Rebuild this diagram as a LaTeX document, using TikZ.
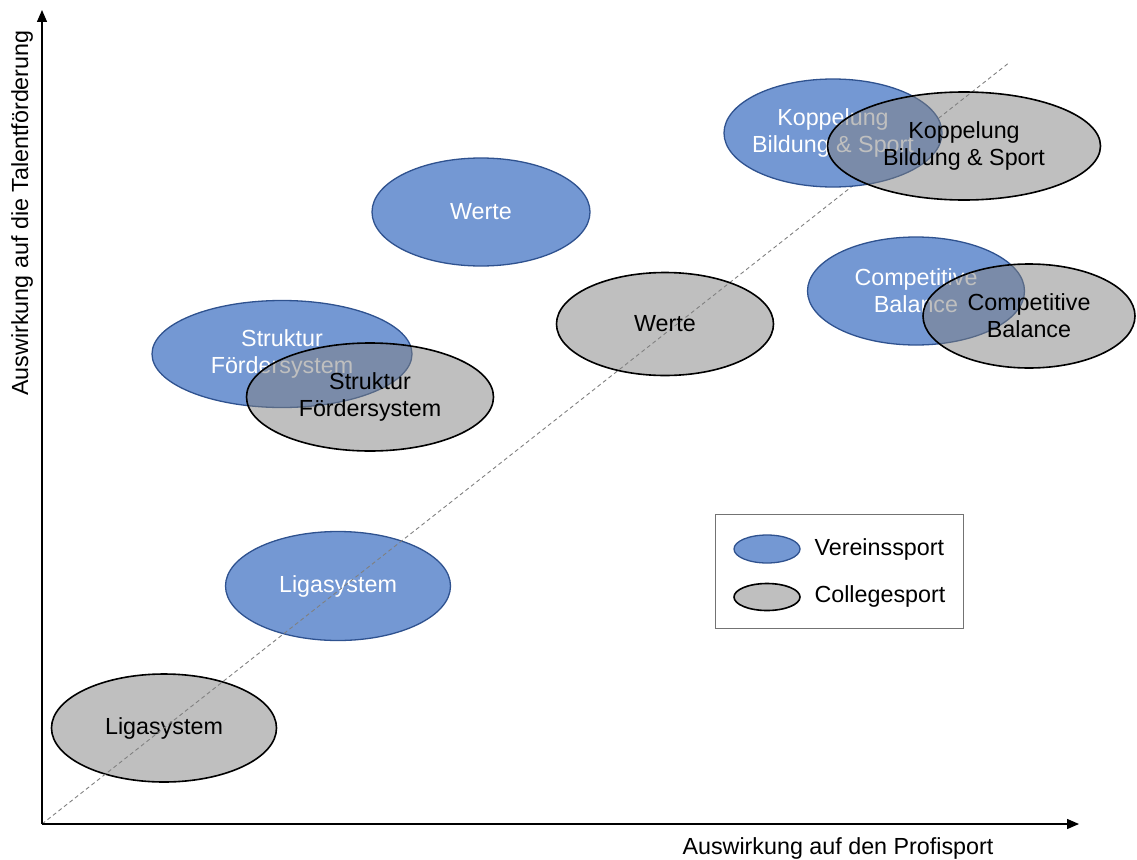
\documentclass[tikz,border=0pt]{standalone}
\usepackage{fontspec}
\setmainfont{Liberation Sans}
\usetikzlibrary{shapes.geometric,arrows.meta}
\definecolor{vblue}{RGB}{116,152,211}
\definecolor{vblueline}{RGB}{47,82,143}
\tikzset{
  lbl/.style={font=\fontsize{23.3}{27}\selectfont, align=center},
  verein/.style={ellipse, draw=vblueline, line width=1.3pt, fill=vblue, text=white, inner sep=0pt, lbl},
  college/.style={ellipse, draw=black, line width=1.6pt, fill=black!50, fill opacity=0.5, draw opacity=1, text opacity=1, text=black, inner sep=0pt, lbl},
  axis/.style={line width=1.4pt, -{Triangle[length=12pt,width=10pt]}},
  diag/.style={gray, line width=0.9pt, dash pattern=on 4pt off 3pt},
}
\begin{document}
\begin{tikzpicture}[x=1pt,y=-1pt]
\useasboundingbox (0,0) rectangle (1137,859);
% Ligasystem
\node[college, minimum width=225pt, minimum height=108pt] (cLiga) at (164,728) {Ligasystem};
\node[verein, minimum width=225pt, minimum height=109pt] (vLiga) at (338,586) {Ligasystem};
% diagonal
\coordinate (o) at (42,824);
\coordinate (dtop) at (1010,62);
\draw[diag] (o) -- (dtop);
% Vereinssport
\node[verein, minimum width=218pt, minimum height=108pt] (vWerte) at (481,212) {Werte};
\node[verein, inner xsep=-25pt, minimum width=218pt, minimum height=108pt] (vKopp) at (833,133) {Koppelung\\Bildung \& Sport};
\node[verein, inner xsep=-10pt, minimum width=217pt, minimum height=108pt] (vComp) at (916,291) {Competitive\\Balance};
\node[verein, minimum width=260pt, minimum height=107pt] (vStruk) at (282,354) {Struktur\\Fördersystem};
% Collegesport
\node[college, minimum width=217pt, minimum height=103pt] (cWerte) at (665,324) {Werte};
\node[college, minimum width=273pt, minimum height=108pt] (cKopp) at (964,146) {Koppelung\\Bildung \& Sport};
\node[college, inner xsep=-10pt, minimum width=212pt, minimum height=104pt] (cComp) at (1029,316) {Competitive\\Balance};
\node[college, minimum width=247pt, minimum height=108pt] (cStruk) at (370,397) {Struktur\\Fördersystem};
% axes
\coordinate (ytip) at (42,10);
\coordinate (xtip) at (1079,824);
\draw[axis] (o) -- (ytip);
\draw[axis] (o) -- (xtip);
\node[lbl, anchor=center] (xlab) at (838,848) {Auswirkung auf den Profisport};
\node[lbl, anchor=center, rotate=90] (ylab) at (22,213) {Auswirkung auf die Talentförderung};
% legend
\node[draw=black!55, line width=0.8pt, minimum width=248pt, minimum height=114pt, inner sep=0pt] (legend) at (839,571) {};
\node[verein, minimum width=66pt, minimum height=28pt] (legV) at (767,549) {};
\node[college, minimum width=66pt, minimum height=27pt] (legC) at (767,597) {};
\node[lbl, anchor=west] (legVt) at (811,549) {Vereinssport};
\node[lbl, anchor=west] (legCt) at (811,596) {Collegesport};
\end{tikzpicture}
\end{document}
